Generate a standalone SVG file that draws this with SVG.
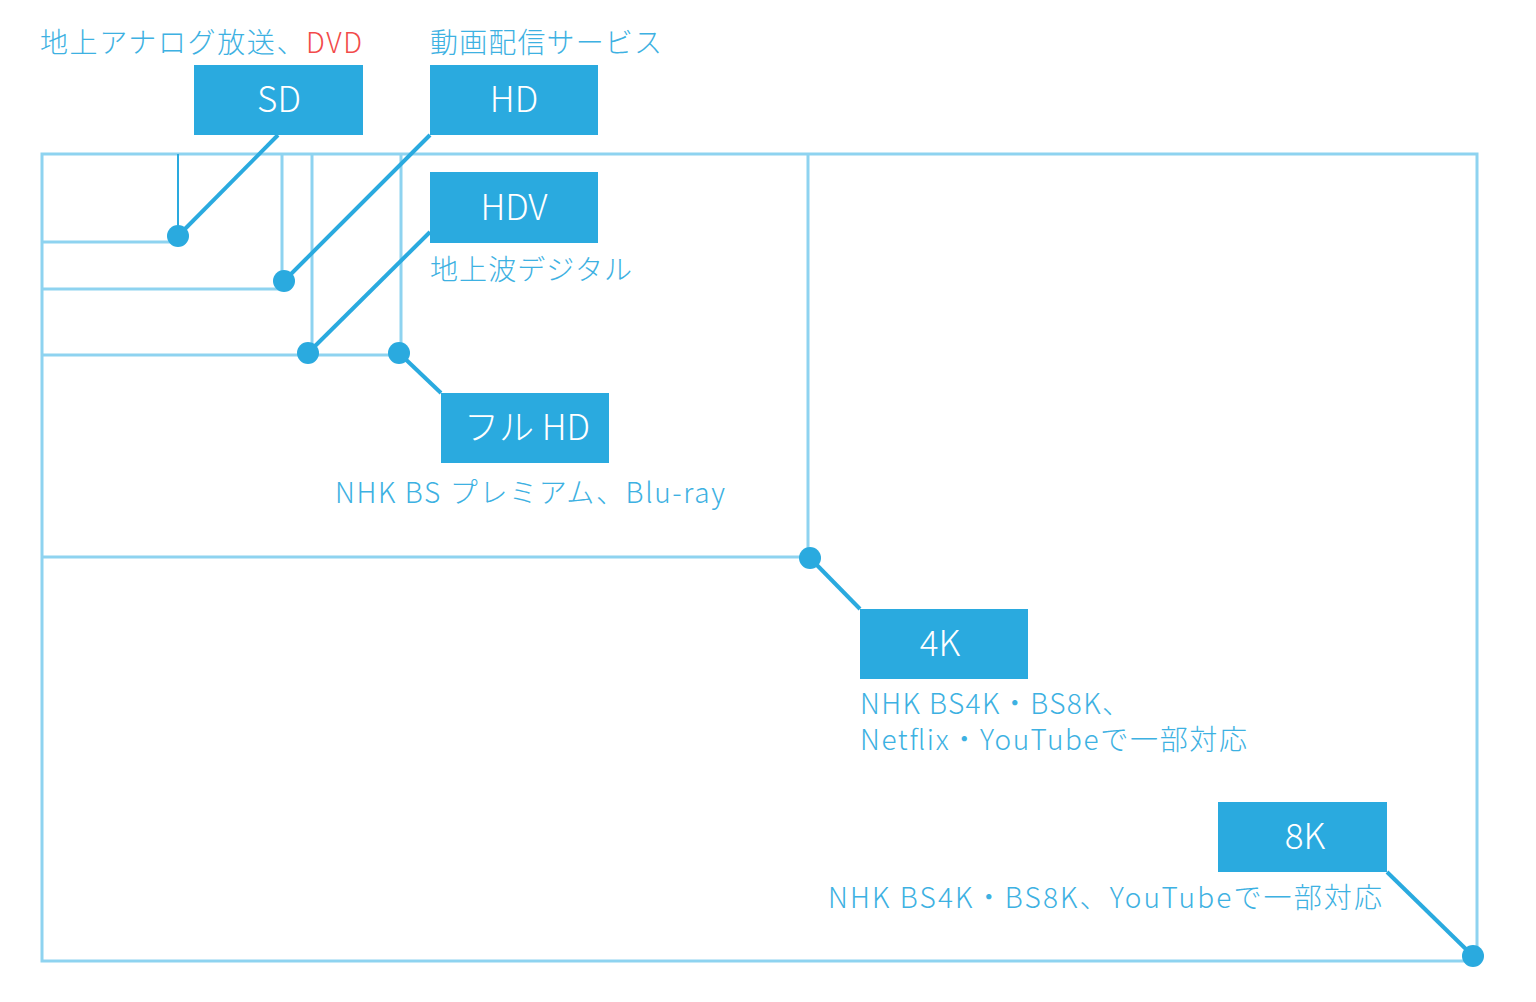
<svg xmlns="http://www.w3.org/2000/svg" width="1536" height="1002" viewBox="0 0 1536 1002">
<style>
.frame{fill:none;stroke:#8ed3f0;stroke-width:3}
.conn{fill:none;stroke:#2aaadf;stroke-width:4}
.dot{fill:#2aaadf}
.box{fill:#2aaadf}
.bt{font-family:"Noto Sans CJK JP","Noto Sans",sans-serif;font-size:35px;fill:#ffffff;text-anchor:middle;font-weight:300}
.lbl{font-family:"Noto Sans CJK JP","Noto Sans",sans-serif;font-size:28px;fill:#3db1e2;font-weight:300}
.red{fill:#f24a4a}
</style>
<rect width="1536" height="1002" fill="#ffffff"/>
<g id="frames">
<rect class="frame" x="42" y="154" width="1435" height="807"/>
<polyline class="frame" points="42,557 808,557 808,154"/>
<polyline class="frame" points="42,355 401,355 401,154"/>
<polyline class="frame" points="312,355 312,154"/>
<polyline class="frame" points="42,289 282,289 282,154"/>
<polyline class="frame" points="42,242 178,242"/>
<line x1="178" y1="154" x2="178" y2="242" stroke="#2aaadf" stroke-width="2"/>
</g>
<g id="connectors">
<line class="conn" x1="278" y1="135" x2="178" y2="236"/>
<line class="conn" x1="430" y1="135" x2="284" y2="281"/>
<line class="conn" x1="430" y1="232" x2="308" y2="353"/>
<line class="conn" x1="399" y1="353" x2="441" y2="393"/>
<line class="conn" x1="810" y1="558" x2="860" y2="609"/>
<line class="conn" x1="1387" y1="872" x2="1473" y2="956"/>
<circle class="dot" cx="178" cy="236" r="11"/>
<circle class="dot" cx="284" cy="281" r="11"/>
<circle class="dot" cx="308" cy="353" r="11"/>
<circle class="dot" cx="399" cy="353" r="11"/>
<circle class="dot" cx="810" cy="558" r="11"/>
<circle class="dot" cx="1473" cy="956" r="11"/>
</g>
<g id="node-sd">
<text class="lbl" x="40" y="53" textLength="322" lengthAdjust="spacing">地上アナログ放送、<tspan class="red">DVD</tspan></text>
<rect class="box" x="194" y="65" width="169" height="70"/>
<text class="bt" x="279" y="112">SD</text>
</g>
<g id="node-hd">
<text class="lbl" x="430" y="53" textLength="232" lengthAdjust="spacing">動画配信サービス</text>
<rect class="box" x="430" y="65" width="168" height="70"/>
<text class="bt" x="514" y="112">HD</text>
</g>
<g id="node-hdv">
<rect class="box" x="430" y="172" width="168" height="71"/>
<text class="bt" x="514" y="220">HDV</text>
<text class="lbl" x="430" y="280" textLength="202" lengthAdjust="spacing">地上波デジタル</text>
</g>
<g id="node-fullhd">
<rect class="box" x="441" y="393" width="168" height="70"/>
<text class="bt" x="527" y="440">フル HD</text>
<text class="lbl" x="335" y="503" textLength="390" lengthAdjust="spacing">NHK BS プレミアム、Blu-ray</text>
</g>
<g id="node-4k">
<rect class="box" x="860" y="609" width="168" height="70"/>
<text class="bt" x="940" y="656">4K</text>
<text class="lbl" x="860" y="714" textLength="270" lengthAdjust="spacing">NHK BS4K・BS8K、</text>
<text class="lbl" x="860" y="750" textLength="387" lengthAdjust="spacing">Netflix・YouTubeで一部対応</text>
</g>
<g id="node-8k">
<rect class="box" x="1218" y="802" width="169" height="70"/>
<text class="bt" x="1305" y="849">8K</text>
<text class="lbl" x="828" y="908" textLength="554" lengthAdjust="spacing">NHK BS4K・BS8K、YouTubeで一部対応</text>
</g>
</svg>
